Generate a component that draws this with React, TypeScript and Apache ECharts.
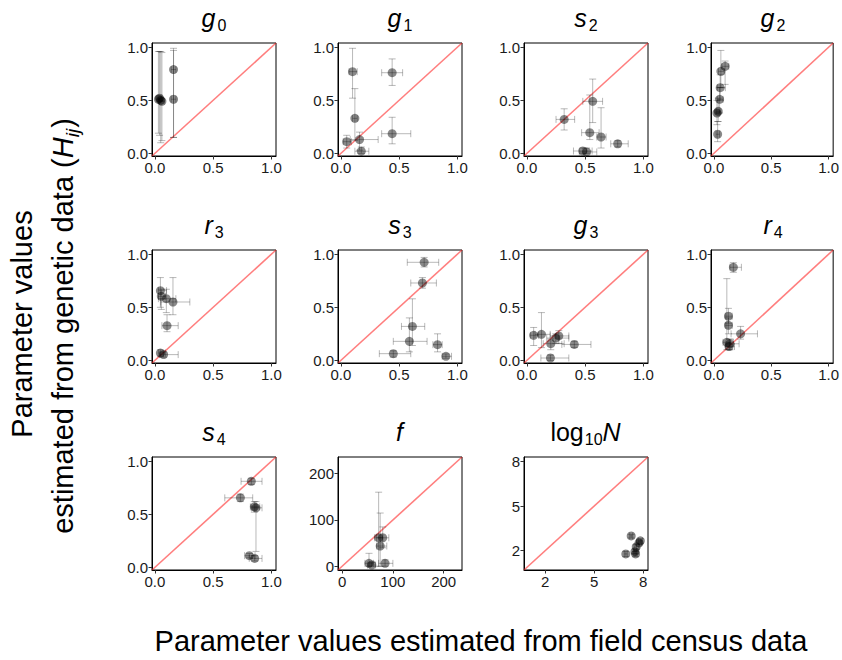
import React, { useEffect, useRef } from "react";
import * as echarts from "echarts";

// ---------- data: [x, y, xLow, xHigh, yLow, yHigh] ----------
const g0Data = [
  [0.04, 0.52, 0.02, 0.06, 0.17, 0.96],
  [0.05, 0.5, 0.03, 0.07, 0.1, 0.96],
  [0.06, 0.49, 0.04, 0.08, 0.12, 0.95],
  [0.03, 0.51, 0.01, 0.05, 0.19, 0.96],
  [0.16, 0.79, 0.14, 0.18, 0.15, 0.99],
  [0.16, 0.51, 0.14, 0.18, 0.15, 0.97],
];
const g1Data = [
  [0.1, 0.77, 0.07, 0.14, 0.52, 0.99],
  [0.44, 0.76, 0.35, 0.53, 0.64, 0.89],
  [0.12, 0.33, 0.1, 0.14, 0.12, 0.61],
  [0.05, 0.11, 0.02, 0.09, 0.05, 0.17],
  [0.16, 0.13, 0.08, 0.32, 0.03, 0.2],
  [0.175, 0.02, 0.12, 0.24, 0.0, 0.06],
  [0.44, 0.185, 0.35, 0.6, 0.09, 0.34],
];
const s2Data = [
  [0.32, 0.32, 0.25, 0.41, 0.22, 0.42],
  [0.565, 0.49, 0.48, 0.65, 0.29, 0.7],
  [0.54, 0.195, 0.47, 0.62, 0.13, 0.55],
  [0.637, 0.154, 0.6, 0.68, 0.05, 0.43],
  [0.78, 0.09, 0.72, 0.87, 0.06, 0.12],
  [0.48, 0.022, 0.4, 0.56, 0.0, 0.05],
  [0.513, 0.013, 0.45, 0.6, 0.0, 0.05],
];
const g2Data = [
  [0.098, 0.82, 0.07, 0.13, 0.65, 0.87],
  [0.061, 0.773, 0.04, 0.09, 0.62, 0.97],
  [0.055, 0.619, 0.03, 0.1, 0.5, 0.74],
  [0.05, 0.509, 0.03, 0.08, 0.38, 0.62],
  [0.038, 0.396, 0.02, 0.06, 0.3, 0.52],
  [0.027, 0.38, 0.01, 0.05, 0.27, 0.5],
  [0.033, 0.18, 0.02, 0.05, 0.11, 0.3],
];
const r3Data = [
  [0.047, 0.657, 0.03, 0.1, 0.5, 0.78],
  [0.055, 0.603, 0.03, 0.09, 0.48, 0.67],
  [0.098, 0.581, 0.03, 0.18, 0.45, 0.67],
  [0.155, 0.55, 0.05, 0.3, 0.43, 0.78],
  [0.104, 0.327, 0.06, 0.2, 0.27, 0.43],
  [0.047, 0.069, 0.03, 0.09, 0.04, 0.1],
  [0.075, 0.054, 0.04, 0.2, 0.03, 0.08],
];
const s3Data = [
  [0.715, 0.924, 0.57, 0.84, 0.88, 0.97],
  [0.7, 0.729, 0.6, 0.82, 0.68, 0.78],
  [0.614, 0.32, 0.52, 0.72, 0.14, 0.58],
  [0.588, 0.179, 0.45, 0.74, 0.08, 0.4],
  [0.45, 0.063, 0.33, 0.6, 0.03, 0.09],
  [0.83, 0.148, 0.79, 0.87, 0.08, 0.25],
  [0.902, 0.038, 0.87, 0.95, 0.02, 0.06],
];
const g3Data = [
  [0.058, 0.236, 0.03, 0.1, 0.14, 0.31],
  [0.125, 0.245, 0.07, 0.2, 0.12, 0.45],
  [0.205, 0.157, 0.14, 0.32, 0.1, 0.2],
  [0.248, 0.21, 0.17, 0.36, 0.16, 0.25],
  [0.274, 0.23, 0.2, 0.36, 0.16, 0.28],
  [0.407, 0.15, 0.3, 0.55, 0.12, 0.18],
  [0.202, 0.022, 0.12, 0.36, 0.0, 0.05],
];
const r4Data = [
  [0.17, 0.877, 0.14, 0.24, 0.83, 0.92],
  [0.127, 0.416, 0.1, 0.16, 0.35, 0.49],
  [0.127, 0.33, 0.1, 0.16, 0.25, 0.4],
  [0.233, 0.25, 0.15, 0.38, 0.2, 0.32],
  [0.113, 0.17, 0.08, 0.17, 0.1, 0.77],
  [0.14, 0.156, 0.1, 0.22, 0.1, 0.2],
  [0.133, 0.13, 0.1, 0.18, 0.1, 0.2],
];
const s4Data = [
  [0.828, 0.811, 0.74, 0.92, 0.78, 0.84],
  [0.734, 0.655, 0.6, 0.84, 0.62, 0.69],
  [0.868, 0.561, 0.83, 0.92, 0.15, 0.62],
  [0.854, 0.57, 0.82, 0.9, 0.52, 0.62],
  [0.811, 0.11, 0.77, 0.86, 0.09, 0.13],
  [0.857, 0.084, 0.81, 0.92, 0.06, 0.11],
];
const fData = [
  [53, 6.4, 45, 62, 0, 28],
  [58.5, 2.8, 50, 66, 0, 8],
  [72, 61.6, 64, 80, 0, 160],
  [80, 61.6, 68, 92, 40, 85],
  [75, 43.7, 68, 88, 0, 115],
  [84.6, 6.4, 72, 100, 0, 14],
];
const logNData = [
  [6.94, 1.78, 6.85, 7.03, 1.6, 1.95],
  [7.27, 2.99, 7.18, 7.36, 2.85, 3.1],
  [7.54, 1.78, 7.45, 7.63, 1.6, 1.95],
  [7.5, 1.93, 7.4, 7.6, 1.8, 2.1],
  [7.58, 2.26, 7.45, 7.75, 2.1, 2.4],
  [7.83, 2.66, 7.7, 7.95, 2.5, 2.8],
  [7.75, 2.52, 7.6, 7.9, 2.4, 2.65],
];

const panelTitles = [
  "{i|g}{s|0}", "{i|g}{s|1}", "{i|s}{s|2}", "{i|g}{s|2}",
  "{i|r}{s|3}", "{i|s}{s|3}", "{i|g}{s|3}", "{i|r}{s|4}",
  "{i|s}{s|4}", "{i|f}", "{n|log}{s|10}{i|N}",
];
const panelData = [
  g0Data, g1Data, s2Data, g2Data,
  r3Data, s3Data, g3Data, r4Data,
  s4Data, fData, logNData,
];
const unitTicks = [0, 0.5, 1];
const fTicks = [0, 100, 200];
const logNTicks = [2, 5, 8];
const unitRange = [-0.025, 1.04];
const fRange = [-8, 236];
const logNRange = [0.7, 8.3];

const yTitle1 = "Parameter values";
const yTitle2 = "{n|estimated from genetic data (}{i|H}{si|ij}{n|)}";
const xTitle = "Parameter values estimated from field census data";

// ---------- layout ----------
const colLeft = [152, 338, 524, 711];
const rowTop = [43, 250, 457];
const boxW = 124;
const boxH = 113;
const FONT = "Liberation Sans, Arial, Helvetica, sans-serif";

function panelScale(i: number) {
  if (i === 9) return { range: fRange, ticks: fTicks, fmt: (v: number) => String(v) };
  if (i === 10) return { range: logNRange, ticks: logNTicks, fmt: (v: number) => String(v) };
  return { range: unitRange, ticks: unitTicks, fmt: (v: number) => v.toFixed(1) };
}

function buildOption() {
  const grid: any[] = [];
  const xAxis: any[] = [];
  const yAxis: any[] = [];
  const series: any[] = [];
  const graphic: any[] = [];

  panelData.forEach((data, i) => {
    const r = Math.floor(i / 4);
    const c = i % 4;
    const sc = panelScale(i);
    grid.push({
      left: colLeft[c],
      top: rowTop[r],
      width: boxW,
      height: boxH,
      show: true,
      borderColor: "#000",
      borderWidth: 1,
      backgroundColor: "transparent",
    });
    const axisCommon = () => ({
      type: "value",
      gridIndex: i,
      min: sc.range[0],
      max: sc.range[1],
      splitLine: { show: false },
      axisLine: { show: true, onZero: false, lineStyle: { color: "#000", width: 1 } },
      axisTick: {
        show: true,
        length: 3.5,
        customValues: sc.ticks,
        lineStyle: { color: "#333" },
      },
      axisLabel: {
        show: true,
        customValues: sc.ticks,
        formatter: (v: number) => sc.fmt(v),
        color: "#1a1a1a",
        fontSize: 15,
        fontFamily: FONT,
        margin: 4,
        showMinLabel: true,
        showMaxLabel: true,
      },
    });
    xAxis.push(axisCommon());
    yAxis.push(axisCommon());

    // diagonal 1:1 line
    series.push({
      type: "line",
      xAxisIndex: i,
      yAxisIndex: i,
      data: [
        [sc.range[0], sc.range[0]],
        [sc.range[1], sc.range[1]],
      ],
      showSymbol: false,
      symbol: "none",
      lineStyle: { color: "rgba(255,40,40,0.6)", width: 1.6 },
      z: 2,
      silent: true,
    });
    // error bars
    series.push({
      type: "custom",
      xAxisIndex: i,
      yAxisIndex: i,
      data,
      encode: { x: 0, y: 1 },
      z: 3,
      silent: true,
      renderItem: (params: any, api: any) => {
        const x = api.value(0);
        const y = api.value(1);
        const xl = api.value(2);
        const xh = api.value(3);
        const yl = api.value(4);
        const yh = api.value(5);
        const pc = api.coord([x, y]);
        const pyl = api.coord([x, yl]);
        const pyh = api.coord([x, yh]);
        const pxl = api.coord([xl, y]);
        const pxh = api.coord([xh, y]);
        const cap = 3.5;
        const style = { stroke: "rgba(0,0,0,0.28)", lineWidth: 1, fill: null };
        const ln = (x1: number, y1: number, x2: number, y2: number) => ({
          type: "line",
          shape: { x1, y1, x2, y2 },
          style,
        });
        return {
          type: "group",
          children: [
            ln(pc[0], pyl[1], pc[0], pyh[1]),
            ln(pc[0] - cap, pyl[1], pc[0] + cap, pyl[1]),
            ln(pc[0] - cap, pyh[1], pc[0] + cap, pyh[1]),
            ln(pxl[0], pc[1], pxh[0], pc[1]),
            ln(pxl[0], pc[1] - cap, pxl[0], pc[1] + cap),
            ln(pxh[0], pc[1] - cap, pxh[0], pc[1] + cap),
          ],
        };
      },
    });
    // points
    series.push({
      type: "scatter",
      xAxisIndex: i,
      yAxisIndex: i,
      data: data.map((d) => [d[0], d[1]]),
      symbol: "circle",
      symbolSize: 9,
      itemStyle: { color: "rgba(0,0,0,0.58)" },
      z: 4,
      silent: true,
    });

    // panel title
    graphic.push({
      type: "text",
      x: colLeft[c] + boxW / 2,
      y: rowTop[r] - 10,
      style: {
        text: panelTitles[i],
        align: "center",
        verticalAlign: "bottom",
        fill: "#000",
        rich: {
          i: { fontSize: 25, fontStyle: "italic", fontFamily: FONT, fill: "#000", verticalAlign: "bottom", padding: [0, 1, 3, 0] },
          n: { fontSize: 25, fontFamily: FONT, fill: "#000", verticalAlign: "bottom", padding: [0, 0, 3, 0] },
          s: { fontSize: 16, fontFamily: FONT, fill: "#000", verticalAlign: "bottom", padding: [0, 0, 0, 1] },
        },
      },
    });
  });

  // axis titles
  graphic.push({
    type: "text",
    x: 22,
    y: 324,
    rotation: Math.PI / 2,
    style: {
      text: yTitle1,
      align: "center",
      verticalAlign: "middle",
      fontSize: 29,
      fontFamily: FONT,
      fill: "#000",
    },
  });
  graphic.push({
    type: "text",
    x: 65,
    y: 326,
    rotation: Math.PI / 2,
    style: {
      text: yTitle2,
      align: "center",
      verticalAlign: "middle",
      fill: "#000",
      rich: {
        n: { fontSize: 29, fontFamily: FONT, fill: "#000", verticalAlign: "bottom", padding: [0, 0, 5, 0] },
        i: { fontSize: 29, fontStyle: "italic", fontFamily: FONT, fill: "#000", verticalAlign: "bottom", padding: [0, 0, 5, 0] },
        si: { fontSize: 19, fontStyle: "italic", fontFamily: FONT, fill: "#000", verticalAlign: "bottom", padding: [0, 1, 0, 0] },
      },
    },
  });
  graphic.push({
    type: "text",
    x: 481,
    y: 641,
    style: {
      text: xTitle,
      align: "center",
      verticalAlign: "middle",
      fontSize: 29,
      fontFamily: FONT,
      fill: "#000",
    },
  });

  return {
    animation: false,
    backgroundColor: "#fff",
    grid,
    xAxis,
    yAxis,
    series,
    graphic,
  };
}

export default function App() {
  const ref = useRef<HTMLDivElement>(null);
  useEffect(() => {
    if (!ref.current) return;
    const chart = echarts.init(ref.current, undefined, { renderer: "svg" });
    chart.setOption(buildOption());
    return () => chart.dispose();
  }, []);
  return (
    <div
      ref={ref}
      style={{ position: "absolute", left: 0, top: 0, width: 842, height: 660 }}
    />
  );
}
